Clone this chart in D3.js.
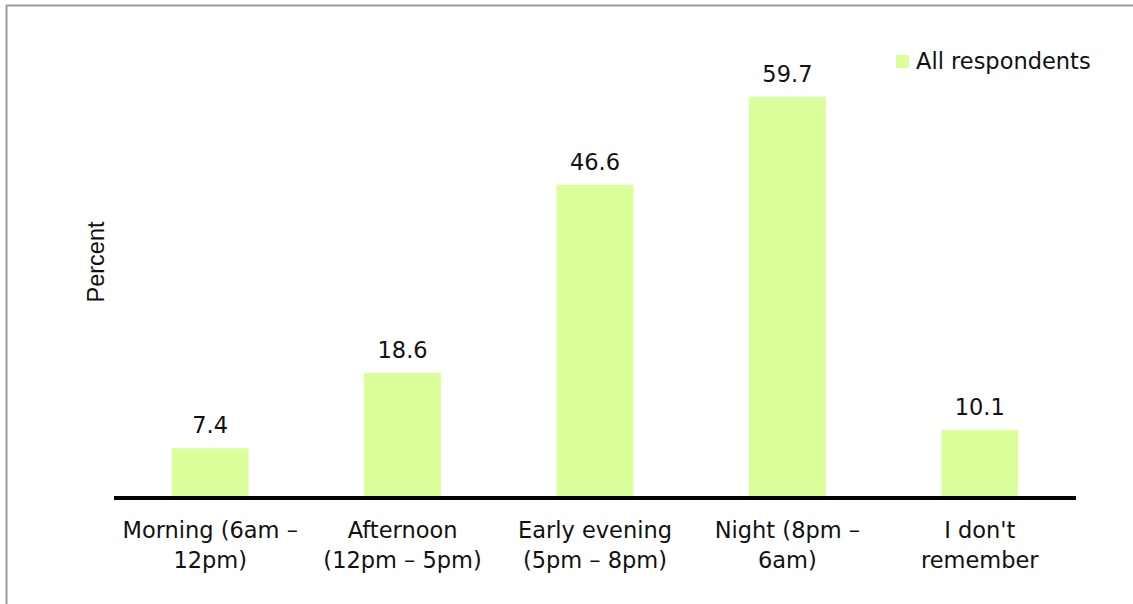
<!DOCTYPE html>
<html><head><meta charset="utf-8">
<script src="https://cdn.jsdelivr.net/npm/d3@7"></script>
<style>body{margin:0;background:#fff;} svg{display:block;}</style>
</head><body>
<svg id="chart" width="1133" height="604"></svg>
<script>
const categories = ["Morning (6am – 12pm)", "Afternoon (12pm – 5pm)", "Early evening (5pm – 8pm)", "Night (8pm – 6am)", "I don't remember"];
const categoryLines = [["Morning (6am –", "12pm)"], ["Afternoon", "(12pm – 5pm)"], ["Early evening", "(5pm – 8pm)"], ["Night (8pm –", "6am)"], ["I don't", "remember"]];
const values = [7.4, 18.6, 46.6, 59.7, 10.1];
const seriesName = "All respondents";
const yLabel = "Percent";

const svg = d3.select("#chart");
const W = 1133, H = 604;
const font = "'DejaVu Sans', sans-serif";
const fs = 22.5;
const barColor = "#DBFF9A";

// frame
svg.append("line").attr("x1", 6).attr("x2", W).attr("y1", 5.5).attr("y2", 5.5).attr("stroke", "#9a9a9a").attr("stroke-width", 2);
svg.append("line").attr("x1", 6.5).attr("x2", 6.5).attr("y1", 5).attr("y2", H).attr("stroke", "#9a9a9a").attr("stroke-width", 2);

const x = d3.scaleBand().domain(categories).range([114, 1076]).paddingInner(0.6).paddingOuter(0.3);
const y = d3.scaleLinear().domain([0, 70]).range([498, 498 - 70 * 6.72]);

svg.selectAll("rect.bar").data(values).join("rect").attr("class", "bar")
  .attr("x", (d, i) => x(categories[i]))
  .attr("width", x.bandwidth())
  .attr("y", d => y(d))
  .attr("height", d => y(0) - y(d))
  .attr("fill", barColor);

svg.selectAll("text.val").data(values).join("text").attr("class", "val")
  .attr("x", (d, i) => x(categories[i]) + x.bandwidth() / 2)
  .attr("y", d => y(d) - 15)
  .attr("text-anchor", "middle")
  .attr("font-family", font).attr("font-size", fs).attr("fill", "#111")
  .text(d => d.toFixed(1));

const xAxis = svg.append("g").attr("transform", `translate(0,${y(0)})`)
  .call(d3.axisBottom(x).tickSize(0).tickFormat(""));
xAxis.select(".domain").attr("stroke", "#000").attr("stroke-width", 4).attr("d", "M114,0H1076");

const lab = svg.selectAll("text.cat").data(categories).join("text").attr("class", "cat")
  .attr("text-anchor", "middle")
  .attr("font-family", font).attr("font-size", fs).attr("fill", "#111");
lab.each(function (d, i) {
  const t = d3.select(this);
  const cx = x(d) + x.bandwidth() / 2;
  categoryLines[i].forEach((ln, j) => {
    t.append("tspan").attr("x", cx).attr("y", 538 + j * 29.5).text(ln);
  });
});

svg.append("text")
  .attr("transform", "translate(104,262) rotate(-90)")
  .attr("text-anchor", "middle")
  .attr("font-family", "'Liberation Sans', Arial, sans-serif").attr("font-size", 23.5).attr("fill", "#111")
  .text(yLabel);

// legend
svg.append("rect").attr("x", 896).attr("y", 55).attr("width", 13).attr("height", 13).attr("fill", barColor);
svg.append("text").attr("x", 916).attr("y", 69)
  .attr("font-family", font).attr("font-size", fs).attr("fill", "#111")
  .text(seriesName);
</script>
</body></html>
